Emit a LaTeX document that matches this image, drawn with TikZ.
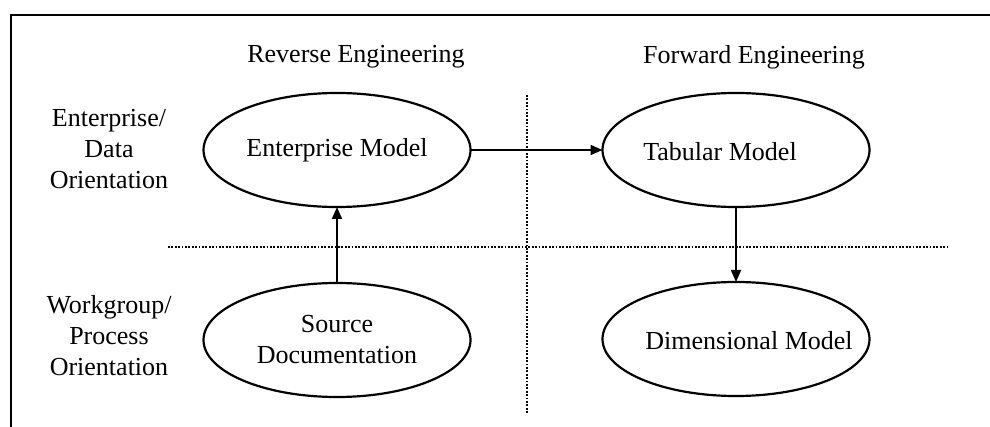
\documentclass[tikz,border=0pt]{standalone}
\usepackage{fontspec}
\setmainfont{Liberation Serif}
\usetikzlibrary{shapes.geometric, arrows.meta}

\begin{document}
\begin{tikzpicture}[x=0.5pt, y=-0.5pt, >={Triangle[length=6pt, width=5pt]},
	every node/.style={font=\fontsize{13}{15.5}\selectfont},
	model/.style={draw, ellipse, line width=1.1pt, minimum width=133.5pt, minimum height=57pt, inner sep=0pt, outer sep=0pt, align=center},
	divider/.style={line width=1.2pt, dash pattern=on 0.9pt off 0.8pt},
	link/.style={->, line width=0.9pt}]

	\useasboundingbox (0, 0) rectangle (990, 427);

	% frame, open to the right and bottom
	\draw [line width=1pt] (11, 432) -- (11, 15) -- (995, 15);

	% column and row headings
	\node (reverse) at (356, 57) {Reverse Engineering};
	\node (forward) at (754, 57) {Forward Engineering};
	\node [align=center] (enterprise-label) at (109, 149) {Enterprise/\\Data\\Orientation};
	\node [align=center] (workgroup-label) at (109, 336) {Workgroup/\\Process\\Orientation};

	% quadrant dividers
	\coordinate (row-left) at (168, 247);
	\coordinate (row-right) at (947, 247);
	\coordinate (col-top) at (527, 95);
	\coordinate (col-bottom) at (527, 413);
	\draw [divider] (row-left) -- (row-right);
	\draw [divider] (col-top) -- (col-bottom);

	% models
	\node [model] (enterprise) at (337, 150) {Enterprise Model};
	\node [model] (source) at (337, 340) {Source\\Documentation};
	\node [model, label={[xshift=-8pt, yshift=-1pt]center:Tabular Model}] (tabular) at (736, 150) {};
	\node [model, label={[xshift=6.5pt, yshift=-1pt]center:Dimensional Model}] (dimensional) at (736, 339) {};

	\draw [link] (source) -- (enterprise);
	\draw [link] (enterprise) -- (tabular);
	\draw [link] (tabular) -- (dimensional);

\end{tikzpicture}
\end{document}
